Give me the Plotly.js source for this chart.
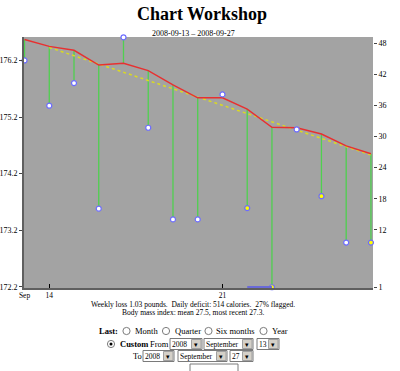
<!DOCTYPE html>
<html><head><meta charset="utf-8">
<script src="https://cdn.plot.ly/plotly-3.0.1.min.js"></script>
<style>html,body{margin:0;padding:0;background:#fff}#chart{width:400px;height:371px}</style>
</head><body><div id="chart"></div>
<script>
// ---- data ----
const dates = ['2008-09-13','2008-09-14','2008-09-15','2008-09-16','2008-09-17','2008-09-18','2008-09-19','2008-09-20','2008-09-21','2008-09-22','2008-09-23','2008-09-24','2008-09-25','2008-09-26','2008-09-27'];
const weights = [176.20,175.40,175.80,173.58,176.61,175.01,173.39,173.39,175.60,173.59,172.19,174.98,173.80,172.98,172.98];
const trend = [176.57,176.45,176.38,176.12,176.15,176.02,175.77,175.54,175.54,175.34,175.02,175.01,174.90,174.69,174.55];
const flagged = [0,0,0,0,0,0,0,0,0,1,1,0,1,0,1];
const fitDates = ['2008-09-14','2008-09-27'];
const fitValues = [176.43,174.53];
const rungDates = ['2008-09-22','2008-09-23'];
const rungValues = [1,1];
const weightTicks = [172.2,173.2,174.2,175.2,176.2];
const rungTicks = [1,12,18,24,30,36,42,48];
const xTickDates = ['2008-09-13','2008-09-14','2008-09-21'];
const xTickLabels = ['Sep','14','21'];
const chartTitle = 'Chart Workshop';
const subtitle = '2008-09-13 \u2013 2008-09-27';
const summary1 = 'Weekly loss 1.03 pounds.\u00a0 Daily deficit: 514 calories.\u00a0 27% flagged.';
const summary2 = 'Body mass index: mean 27.5, most recent 27.3.';
const periodLabel = 'Last:';
const periodOptions = ['Month','Quarter','Six months','Year'];
const customLabel = 'Custom';
const fromLabel = 'From';
const toLabel = 'To';
const fromSel = ['2008','September','13'];
const toSel = ['2008','September','27'];

// ---- geometry helpers (pixel -> paper) ----
const L=24, R=373, T=37, B=288;
const px = x => (x-L)/(R-L);
const py = y => (B-y)/(B-T);
const SERIF = 'Liberation Serif, Times New Roman, serif';

const vx=[], vy=[];
dates.forEach((d,i)=>{ vx.push(d,d,null); vy.push(trend[i],weights[i],null); });

const traces = [
  {x:vx, y:vy, type:'scatter', mode:'lines', line:{color:'#4fd04f', width:1.3}, hoverinfo:'skip', showlegend:false},
  {x:rungDates, y:rungValues, yaxis:'y2', type:'scatter', mode:'lines', line:{color:'#6a6ad8', width:2}, showlegend:false, cliponaxis:false},
  {x:fitDates, y:fitValues, type:'scatter', mode:'lines', line:{color:'#dada22', width:1.5, dash:'dot'}, showlegend:false},
  {x:dates, y:trend, type:'scatter', mode:'lines', line:{color:'#e83030', width:1.4}, showlegend:false},
  {x:dates, y:weights, type:'scatter', mode:'markers', cliponaxis:false, showlegend:false,
   marker:{size:5, color:flagged.map(f=>f?'#ffff00':'#ffffff'), line:{color:'#6b6bff', width:1.2}}}
];

const shapes = [];
const ann = [];
function text(x, y, t, opts={}) {
  ann.push(Object.assign({xref:'paper', yref:'paper', x:px(x), y:py(y), text:t, showarrow:false,
    xanchor:'left', yanchor:'middle', borderpad:0, font:{family:SERIF, size:8.5, color:'#000'}}, opts));
}
function radio(cx, cy, on) {
  shapes.push({type:'circle', xref:'paper', yref:'paper', x0:px(cx-3.6), x1:px(cx+3.6), y0:py(cy+3.6), y1:py(cy-3.6),
    fillcolor:'#ffffff', line:{color:'#7c7c7c', width:1}});
  if (on) shapes.push({type:'circle', xref:'paper', yref:'paper', x0:px(cx-1.5), x1:px(cx+1.5), y0:py(cy+1.5), y1:py(cy-1.5),
    fillcolor:'#000000', line:{color:'#000', width:0}});
}
function selectBox(x0, x1, cy, label) {
  shapes.push({type:'rect', xref:'paper', yref:'paper', x0:px(x0), x1:px(x1), y0:py(cy+5.5), y1:py(cy-5.5),
    fillcolor:'#ffffff', line:{color:'#7a7a7a', width:1}});
  shapes.push({type:'rect', xref:'paper', yref:'paper', x0:px(x1-10.5), x1:px(x1-1), y0:py(cy+4.5), y1:py(cy-4.5),
    fillcolor:'#d4d0c8', line:{color:'#a0a0a0', width:1}});
  text(x0+1, cy, label, {font:{family:SERIF, size:7.5, color:'#000'}});
  text(x1-5.8, cy+0.5, '\u25BE', {xanchor:'center', font:{family:'DejaVu Sans', size:7, color:'#000'}});
}

// subtitle + summary
text(193, 33, subtitle, {xanchor:'center', font:{family:SERIF, size:8, color:'#000'}});
text(192.5, 304, summary1, {xanchor:'center', font:{family:SERIF, size:7.5, color:'#000'}});
text(192.5, 312, summary2, {xanchor:'center', font:{family:SERIF, size:7.5, color:'#000'}});

// form row 1
text(97.5, 331, '<b>'+periodLabel+'</b>');
const r1Radios=[126.5,166,208.5,263.5], r1Text=[133.5,173.5,214.5,270.5];
periodOptions.forEach((o,i)=>{ radio(r1Radios[i],331,false); text(r1Text[i],331,o); });
// row 2
radio(111,344,true);
text(118.5,344,'<b>'+customLabel+'</b>');
text(148.5,344,fromLabel);
selectBox(170,202,344,fromSel[0]);
selectBox(204,253,344,fromSel[1]);
selectBox(257,279,344,fromSel[2]);
// row 3
text(131.5,356,toLabel);
selectBox(143,174,356,toSel[0]);
selectBox(178,227,356,toSel[1]);
selectBox(230,253,356,toSel[2]);
// row 4 (cut off at bottom)
shapes.push({type:'rect', xref:'paper', yref:'paper', x0:px(190), x1:px(238), y0:py(375), y1:py(364),
    fillcolor:'#ffffff', line:{color:'#7a7a7a', width:1}});

const layout = {
  width:400, height:371,
  margin:{l:L, r:400-R, t:T, b:371-B, pad:0},
  paper_bgcolor:'#ffffff', plot_bgcolor:'#a3a3a3',
  title:{text:'<b>'+chartTitle+'</b>', font:{family:SERIF, size:18, color:'#000'}, x:0.505, xanchor:'center', y:1-14/371, yanchor:'middle'},
  showlegend:false,
  xaxis:{type:'date', range:['2008-09-12 23:30','2008-09-27 02:00'], tickvals:xTickDates, ticktext:xTickLabels,
    ticks:'inside', ticklen:4, tickcolor:'#000', tickwidth:1, showgrid:false, zeroline:false, ticklabelstandoff:-1,
    showline:true, linecolor:'#5f5f5f', linewidth:2, tickfont:{family:SERIF, size:7.5, color:'#000'}},
  yaxis:{range:[172.177,176.615], tickvals:weightTicks, ticktext:weightTicks.map(v=>v.toFixed(1)),
    ticks:'outside', ticklen:3, tickcolor:'#444', showgrid:false, zeroline:false,
    showline:true, linecolor:'#5f5f5f', linewidth:2, tickfont:{family:SERIF, size:8, color:'#000'}},
  yaxis2:{overlaying:'y', side:'right', range:[0.81,49.16], tickvals:rungTicks, ticktext:rungTicks.map(String),
    ticks:'outside', ticklen:3, tickcolor:'#444', showgrid:false, zeroline:false, showline:false,
    tickfont:{family:SERIF, size:8, color:'#000'}},
  shapes:shapes, annotations:ann
};
Plotly.newPlot('chart', traces, layout, {staticPlot:true, displayModeBar:false});
</script></body></html>
